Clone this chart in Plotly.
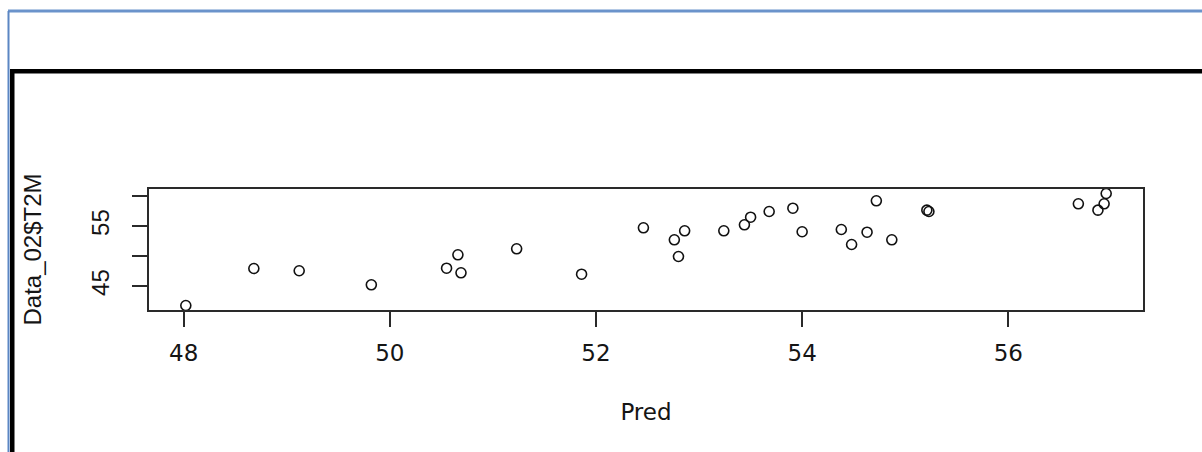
import plotly.graph_objects as go

# Predicted vs. observed 2 m temperature
pred = [48.02, 48.68, 49.12, 49.82, 50.55, 50.66, 50.69, 51.23, 51.86, 52.46,
        52.76, 52.80, 52.86, 53.24, 53.44, 53.50, 53.68, 53.91, 54.00, 54.38,
        54.48, 54.63, 54.72, 54.87, 55.21, 55.23, 56.68, 56.87, 56.93, 56.95]
t2m = [41.78, 47.95, 47.57, 45.23, 48.00, 50.23, 47.23, 51.23, 47.00, 54.73,
       52.73, 49.95, 54.23, 54.23, 55.23, 56.50, 57.45, 58.00, 54.07, 54.45,
       51.95, 54.00, 59.23, 52.73, 57.67, 57.45, 58.73, 57.67, 58.73, 60.45]

x_ticks = [48, 50, 52, 54, 56]
x_tick_text = ["48", "50", "52", "54", "56"]
y_ticks = [45, 50, 55, 60]
y_tick_text = ["45", "", "55", ""]

W, H = 1202, 452
L, R, T, B = 149, 1143, 189, 310   # plot box in pixels


def padded(vals, frac=0.04):
    lo, hi = min(vals), max(vals)
    d = (hi - lo) * frac
    return [lo - d, hi + d]


def px(x):
    return (x - L) / (R - L)


def py(y):
    return (B - y) / (B - T)


ink = "#151515"
h_font = dict(family="DejaVu Sans", size=23, color=ink)
v_font = dict(family="Liberation Sans, Arial", size=24, color=ink)

fig = go.Figure(go.Scatter(
    x=pred, y=t2m, mode="markers",
    marker=dict(symbol="circle-open", size=10, color="#111",
                line=dict(width=1.6, color="#111")),
    showlegend=False,
))

# window frame around the graphics device
frame = [
    dict(type="line", x0=px(8), x1=px(W), y0=py(11), y1=py(11),
         line=dict(color="#6b93cb", width=3)),
    dict(type="line", x0=px(8.5), x1=px(8.5), y0=py(11), y1=py(H),
         line=dict(color="#5b86c3", width=2)),
    dict(type="rect", x0=px(10), x1=px(W), y0=py(69), y1=py(73.5),
         fillcolor="#000", line=dict(width=0)),
    dict(type="rect", x0=px(10), x1=px(14.5), y0=py(69), y1=py(H),
         fillcolor="#000", line=dict(width=0)),
]
for s in frame:
    s.update(xref="paper", yref="paper", layer="above")

fig.update_layout(
    width=W, height=H,
    margin=dict(l=L, r=W - R, t=T, b=H - B, pad=0),
    paper_bgcolor="white", plot_bgcolor="white",
    shapes=frame,
    xaxis=dict(
        range=padded(pred), tickvals=x_ticks, ticktext=x_tick_text,
        showgrid=False, zeroline=False, showline=True, mirror=True,
        linecolor="#2a2a2a", linewidth=1.6,
        ticks="outside", ticklen=15, tickwidth=1.6, tickcolor="#2a2a2a",
        tickfont=h_font, ticklabelstandoff=7,
        title=dict(text="Pred", font=h_font, standoff=38),
    ),
    yaxis=dict(
        range=padded(t2m), tickvals=y_ticks, ticktext=y_tick_text,
        showgrid=False, zeroline=False, showline=True, mirror=True,
        linecolor="#2a2a2a", linewidth=1.6,
        ticks="outside", ticklen=15, tickwidth=1.6, tickcolor="#2a2a2a",
        tickfont=v_font, tickangle=-90, ticklabelstandoff=14,
        title=dict(text="Data_02$T2M", font=v_font, standoff=38),
    ),
)

fig.write_html("out.html")
